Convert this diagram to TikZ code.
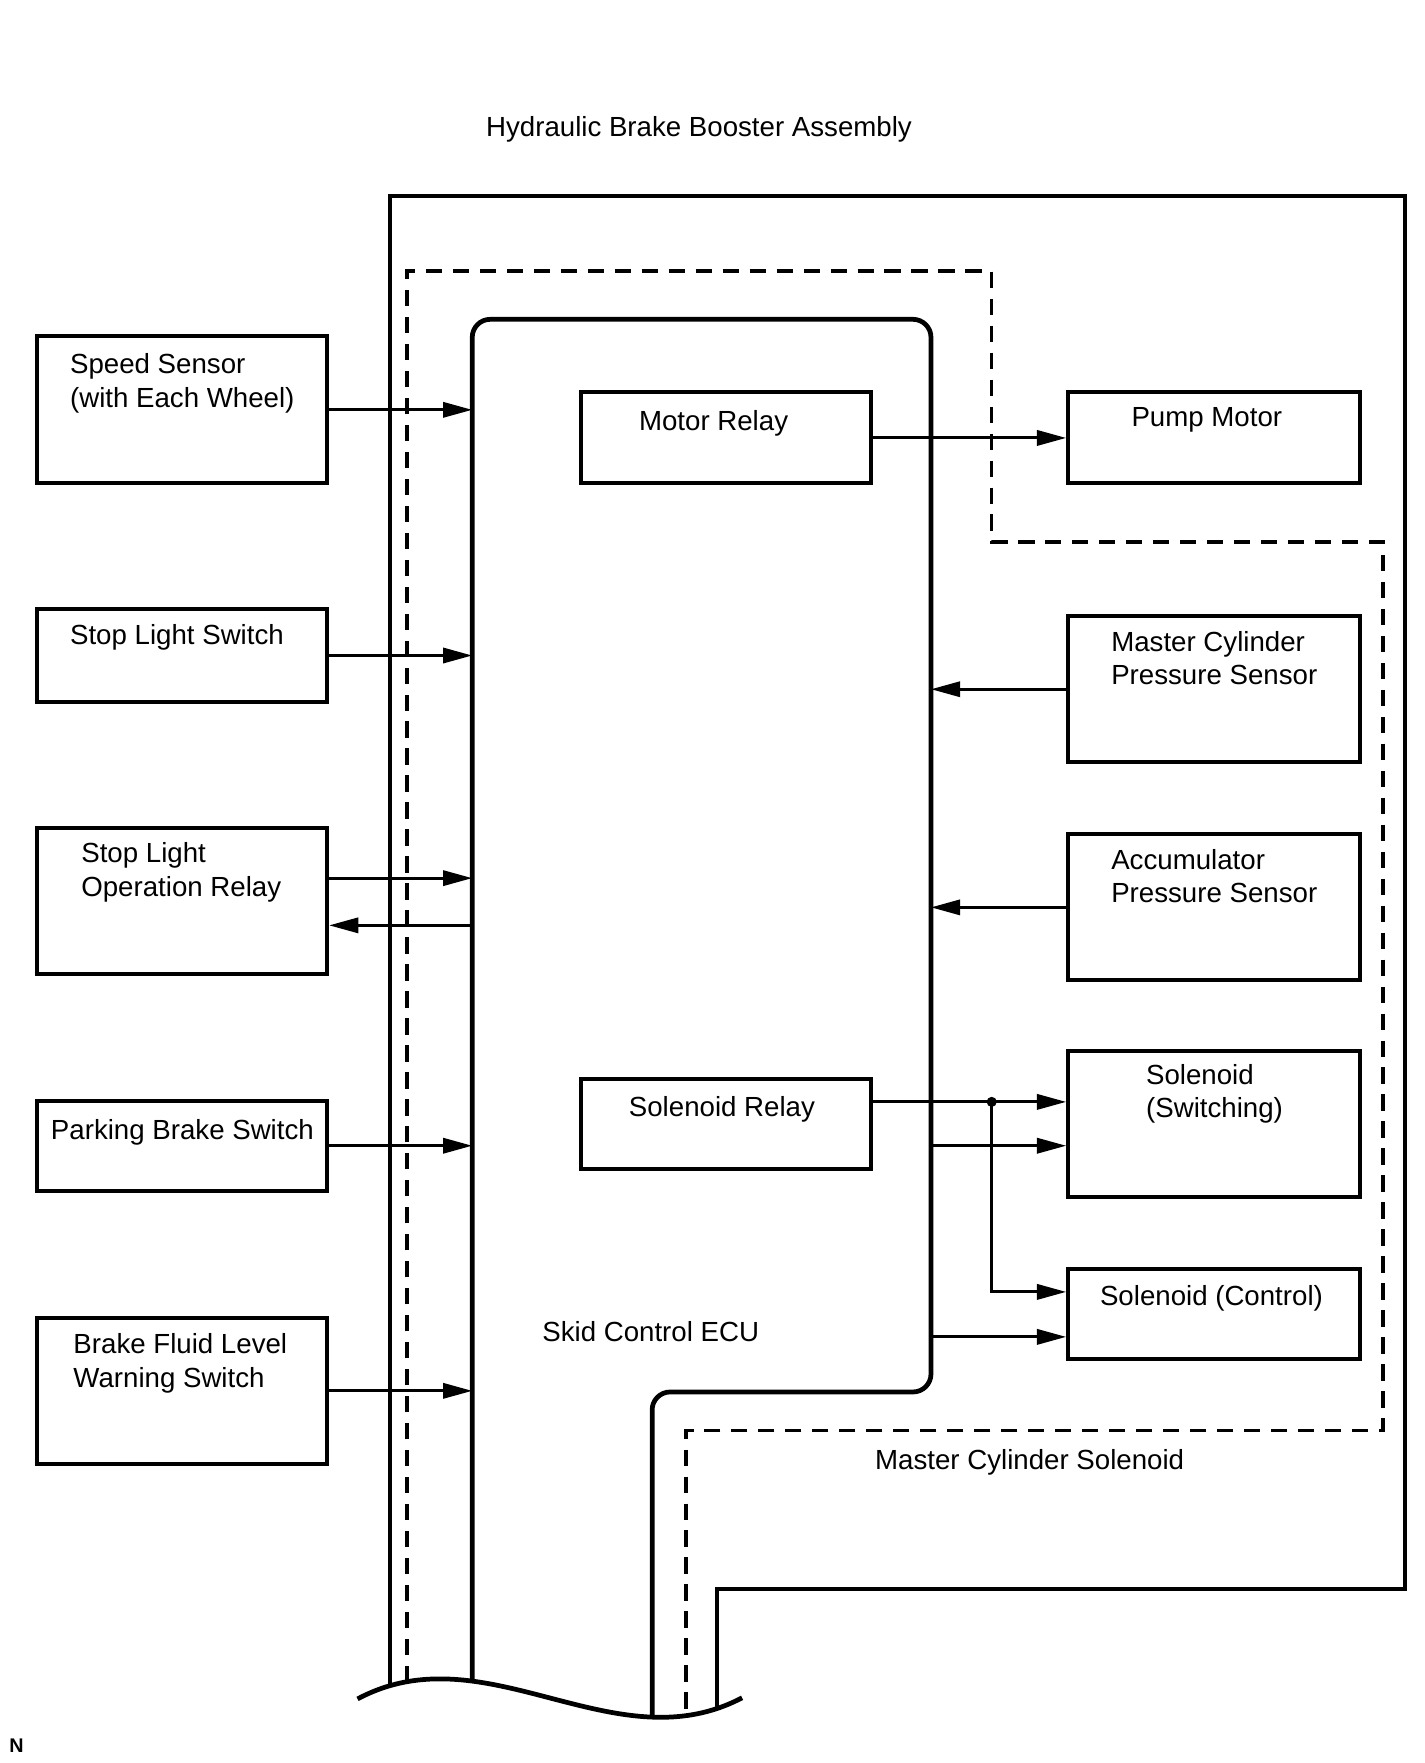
\documentclass[tikz,border=0pt]{standalone}
\usepackage{fontspec}
\setmainfont{Liberation Sans}
\usetikzlibrary{arrows.meta,positioning}

\begin{document}
\begin{tikzpicture}[x=0.02cm,y=-0.02cm,
  >={Triangle[length=0.52cm,width=0.27cm]},
  every node/.style={font=\fontsize{14}{17}\selectfont},
  unit/.style={draw,line width=2pt,minimum width=5.16cm,inner sep=0pt},
  lbl/.style={anchor=north west,inner sep=0pt,align=left},
  frame/.style={line width=2pt},
  ecu/.style={line width=2.4pt,rounded corners=0.32cm},
  zone/.style={line width=1.7pt,dash pattern=on 0.29cm off 0.19cm},
  wire/.style={->,line width=1.5pt}]

\useasboundingbox[fill=white] (0,0) rectangle (1267,1568);

% housings
\draw[frame] (347,1499) -- (347,174) -- (1250,174) -- (1250,1413)
  -- (638,1413) -- (638,1519);
\draw[zone] (362,1496) -- (362,241) -- (882,241) -- (882,482)
  -- (1230,482) -- (1230,1272) -- (610,1272) -- (610,1526);
\draw[ecu] (420,1495) -- (420,284) -- (828,284)
  -- (828,1238) -- (580,1238) -- (580,1527);
\draw[frame,line width=2.4pt] (318,1511) .. controls (432,1450) and (546,1570) .. (660,1510);

\coordinate (ecuL) at (420,0);
\coordinate (ecuR) at (828,0);
\coordinate (mcsX) at (882,0);

% inputs on the left
\node[unit,minimum height=2.62cm] (speed)  at (162,364.5) {};
\node[unit,minimum height=1.64cm] (stopsw) at (162,583)   {};
\node[unit,minimum height=2.6cm]  (slor)   at (162,801)   {};
\node[unit,minimum height=1.6cm]  (park)   at (162,1019)  {};
\node[unit,minimum height=2.6cm]  (fluid)  at (162,1237)  {};

% relays inside the ECU
\node[unit,minimum height=1.62cm] (motorrly) at (645.5,389.5) {};
\node[unit,minimum height=1.6cm]  (solrly)   at (645.5,1000)  {};

% actuators and sensors on the right
\node[unit,minimum width=5.2cm,minimum height=1.62cm] (pump)   at (1080,389.5) {};
\node[unit,minimum width=5.2cm,minimum height=2.6cm]  (mcps)   at (1080,613)   {};
\node[unit,minimum width=5.2cm,minimum height=2.6cm]  (accps)  at (1080,807)   {};
\node[unit,minimum width=5.2cm,minimum height=2.6cm]  (solsw)  at (1080,1000)  {};
\node[unit,minimum width=5.2cm,minimum height=1.6cm]  (solctl) at (1080,1169)  {};

% texts
\node[lbl] (t_title)  at (432,103)  {Hydraulic Brake Booster Assembly};
\node[lbl] (t_speed)  at (62,314)   {Speed Sensor\\(with Each Wheel)};
\node[lbl] (t_stopsw) at (62,555)   {Stop Light Switch};
\node[lbl] (t_slor)   at (72,749)   {Stop Light\\Operation Relay};
\node[lbl] (t_park)   at (45,995)   {Parking Brake Switch};
\node[lbl] (t_fluid)  at (65,1186)  {Brake Fluid Level\\Warning Switch};
\node[lbl] (t_motor)  at (568,365)  {Motor Relay};
\node[lbl] (t_solrly) at (559,975)  {Solenoid Relay};
\node[lbl] (t_pump)   at (1006,362) {Pump Motor};
\node[lbl] (t_mcps)   at (988,561)  {Master Cylinder\\Pressure Sensor};
\node[lbl] (t_accps)  at (988,755)  {Accumulator\\Pressure Sensor};
\node[lbl] (t_solsw)  at (1019,946) {Solenoid\\(Switching)};
\node[lbl] (t_solctl) at (978,1143) {Solenoid (Control)};
\node[lbl] (t_ecu)    at (482,1175) {Skid Control ECU};
\node[lbl] (t_mcs)    at (778,1289) {Master Cylinder Solenoid};
\node[lbl,font=\bfseries\fontsize{10}{12}\selectfont] (t_n) at (8,1546) {N};

\coordinate (slorIn)  at ([yshift=0.4cm]slor.east);
\coordinate (slorOut) at ([yshift=-0.44cm]slor.east);
\coordinate (solA)    at ([yshift=0.4cm]solrly.east);
\coordinate (solB)    at ([yshift=-0.38cm]solsw.west);
\coordinate (ctlA)    at ([yshift=0.4cm]solctl.west);
\coordinate (ctlB)    at ([yshift=-0.4cm]solctl.west);
\coordinate (jct)     at (solA -| mcsX);

\path[wire]
  (speed)    edge (speed -| ecuL)
  (stopsw)   edge (stopsw -| ecuL)
  (slorIn)   edge (slorIn -| ecuL)
  (slorOut -| ecuL) edge (slorOut)
  (park)     edge (park -| ecuL)
  (fluid)    edge (fluid -| ecuL)

  (motorrly) edge (pump)
  (mcps)     edge (mcps -| ecuR)
  (accps)    edge (accps -| ecuR)

  (solA)     edge (solA -| solsw.west)
  (solB -| ecuR) edge (solB)
  (jct)      edge [to path={|- (\tikztotarget)}] (ctlA)
  (ctlB -| ecuR) edge (ctlB)
;
\fill (jct) circle (0.09cm);
\end{tikzpicture}
\end{document}
